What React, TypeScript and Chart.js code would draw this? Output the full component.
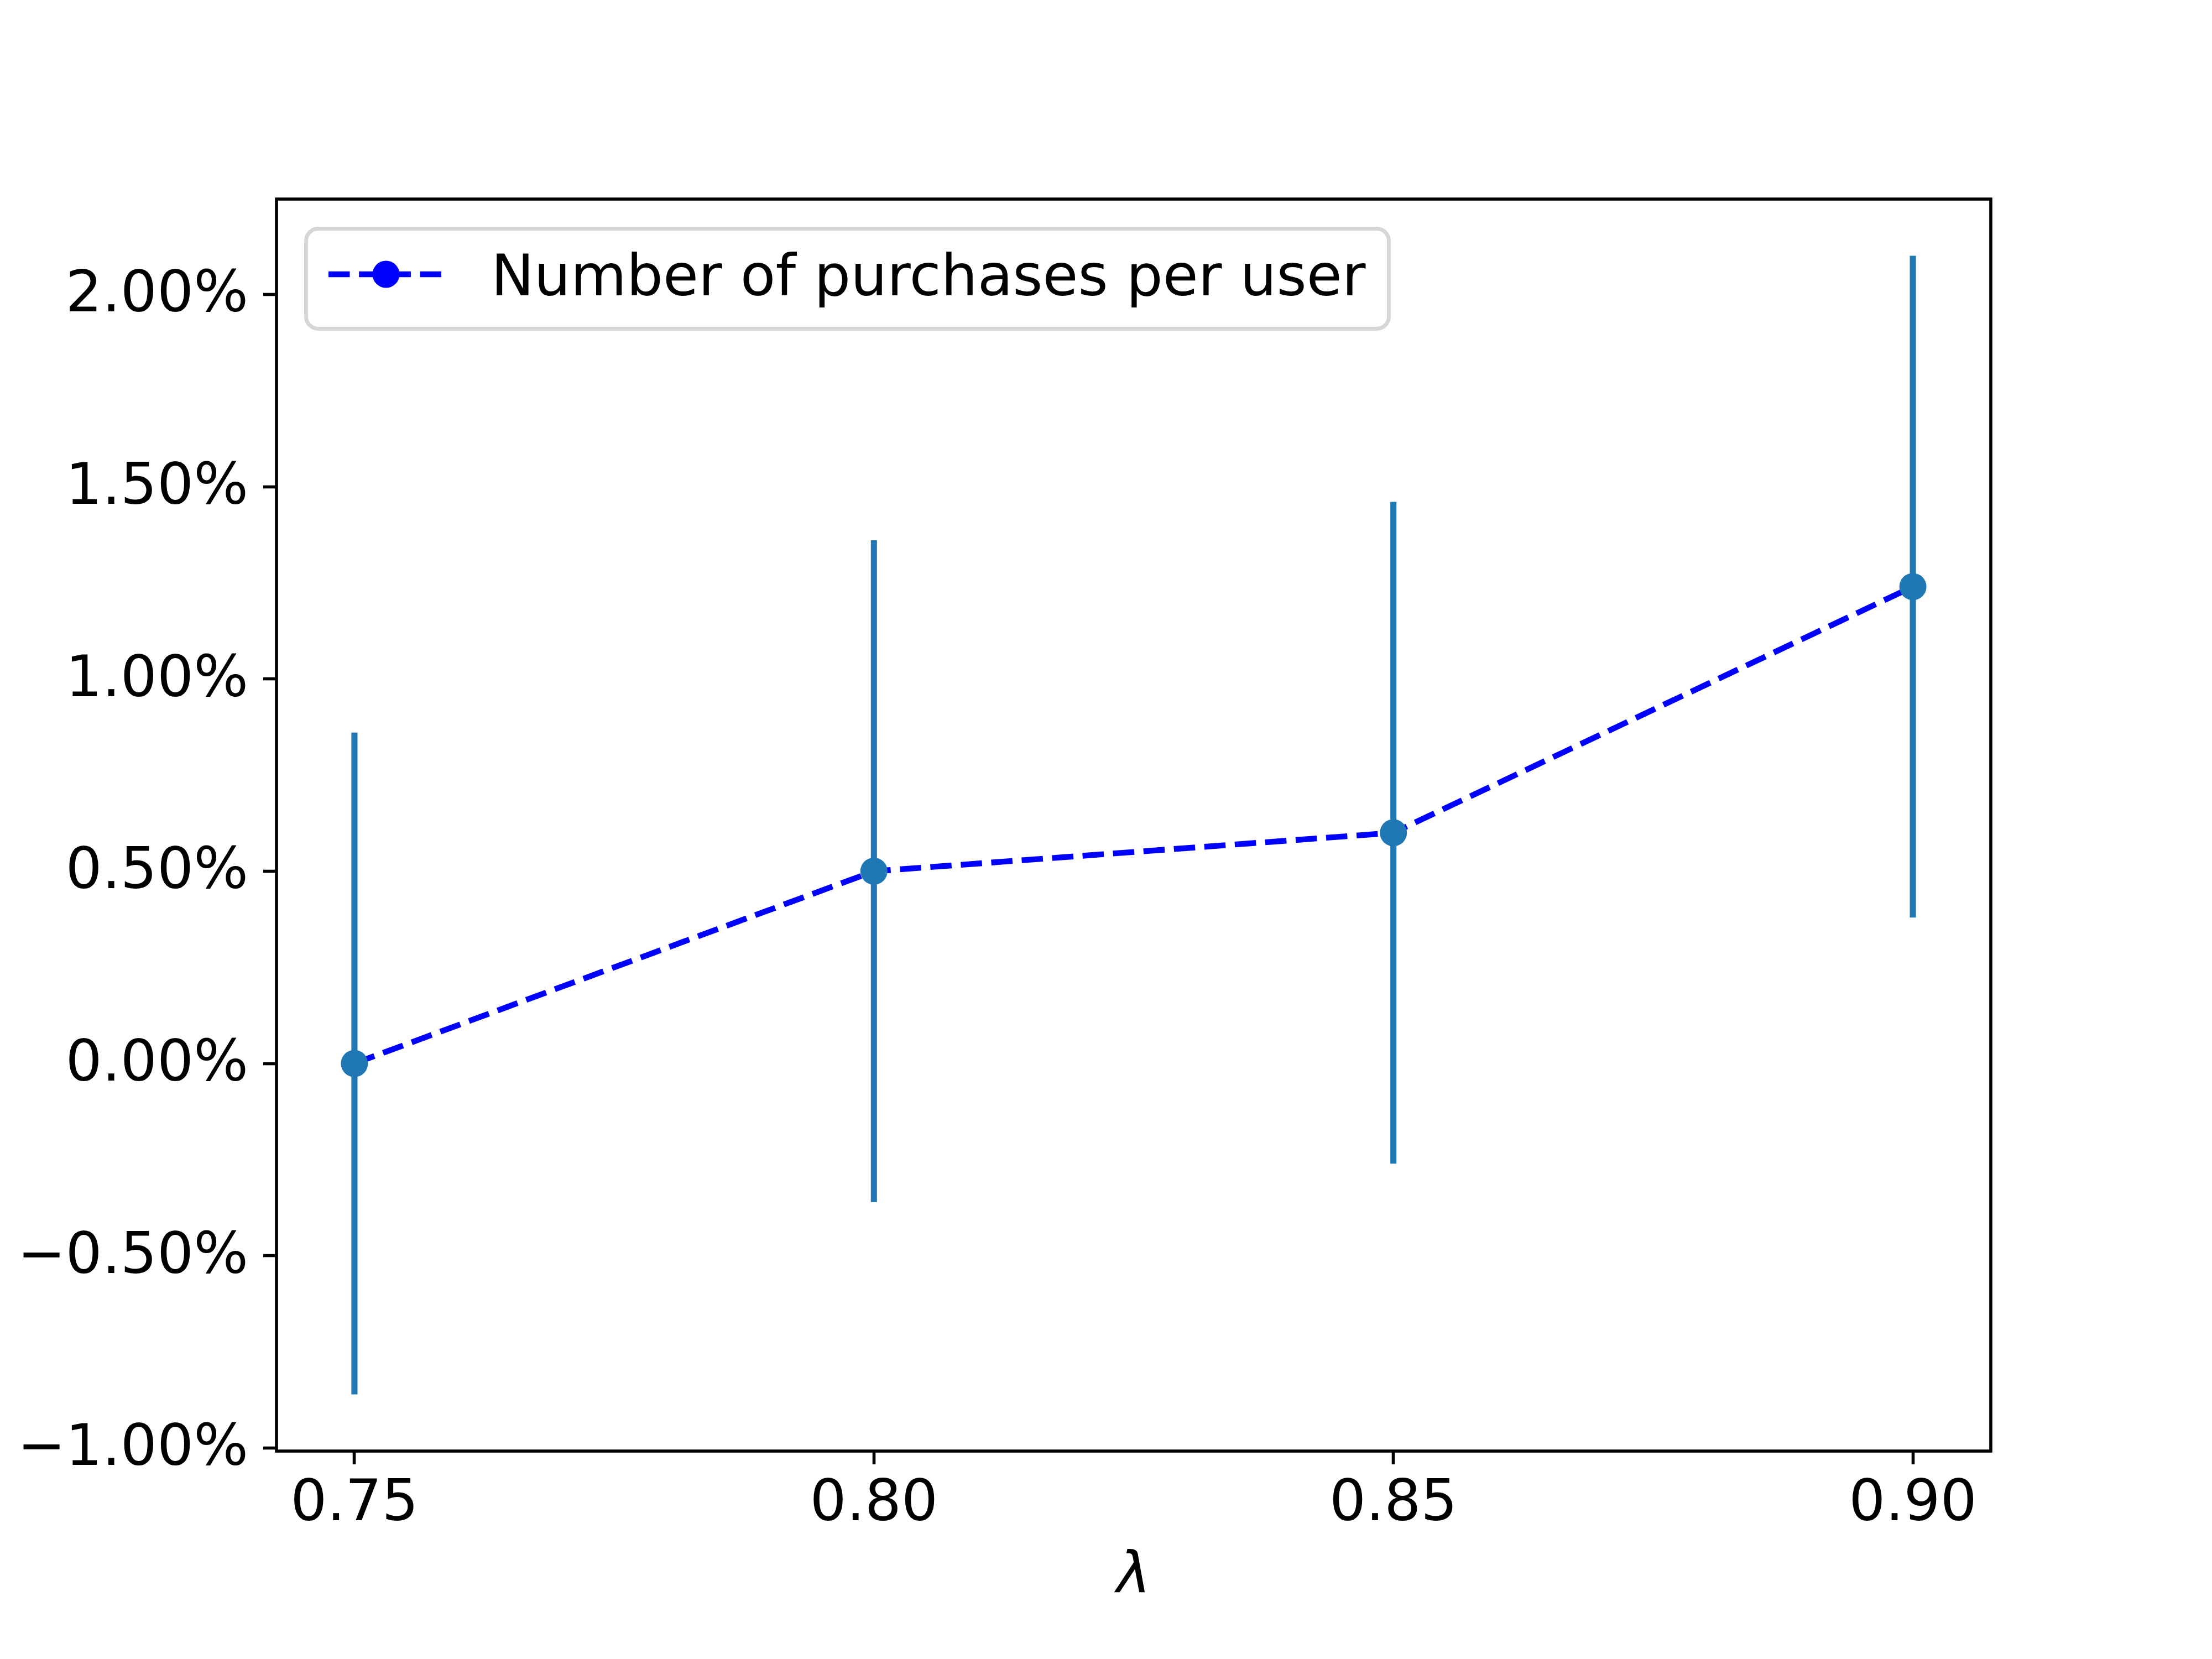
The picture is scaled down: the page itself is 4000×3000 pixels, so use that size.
import React, { useEffect, useRef } from "react";
import { Chart, registerables } from "chart.js";

Chart.register(...registerables);

const lambdas = [0.75, 0.8, 0.85, 0.9];
const uplift = [0.0, 0.5, 0.6, 1.24];
const upliftErr = [0.86, 0.86, 0.86, 0.86];
const xTicks = [0.75, 0.8, 0.85, 0.9];
const yTicks = [-1.0, -0.5, 0.0, 0.5, 1.0, 1.5, 2.0];
const seriesLabel = "Number of purchases per user";
const xTitle = "λ";

const FONT = '"DejaVu Sans"';
const FS = 104;
const C0 = "#1f77b4";
const BLUE = "#0000ff";
const DASH = [38.5, 16.7];
const LW = 10.4;

const framePlugin = {
  id: "frameLegend",
  afterDraw(chart: any) {
    const ctx = chart.ctx;
    const ca = chart.chartArea;
    ctx.save();
    // axes frame
    ctx.strokeStyle = "#000";
    ctx.lineWidth = 5.6;
    ctx.setLineDash([]);
    ctx.strokeRect(ca.left, ca.top, ca.right - ca.left, ca.bottom - ca.top);

    // legend
    const ds = chart.data.datasets[0];
    ctx.font = `${FS}px ${FONT}`;
    const textX = ca.left + 388;
    const tw = ctx.measureText(ds.label).width;
    const bx0 = ca.left + 53.5;
    const by0 = ca.top + 53.5;
    const bx1 = textX + tw + 42;
    const by1 = ca.top + 234.5;
    ctx.beginPath();
    ctx.roundRect(bx0, by0, bx1 - bx0, by1 - by0, 22);
    ctx.fillStyle = "rgba(255,255,255,0.8)";
    ctx.fill();
    ctx.strokeStyle = "#d6d6d6";
    ctx.lineWidth = 7;
    ctx.stroke();

    const hy = ca.top + 136;
    ctx.beginPath();
    ctx.setLineDash(DASH);
    ctx.strokeStyle = BLUE;
    ctx.lineWidth = LW;
    ctx.lineCap = "butt";
    ctx.moveTo(ca.left + 94, hy);
    ctx.lineTo(ca.left + 302, hy);
    ctx.stroke();
    ctx.setLineDash([]);
    ctx.beginPath();
    ctx.arc(ca.left + 198, hy, 24.5, 0, Math.PI * 2);
    ctx.fillStyle = BLUE;
    ctx.fill();

    ctx.fillStyle = "#000";
    ctx.textAlign = "left";
    ctx.textBaseline = "alphabetic";
    ctx.fillText(ds.label, textX, ca.top + 174);

    // x axis title
    ctx.font = `italic ${FS}px ${FONT}`;
    ctx.textAlign = "center";
    ctx.fillText(xTitle, (ca.left + ca.right) / 2, 2880);
    ctx.restore();
  },
};

export default function App() {
  const ref = useRef<HTMLCanvasElement | null>(null);

  useEffect(() => {
    if (!ref.current) return;
    const chart = new Chart(ref.current, {
      type: "line",
      data: {
        datasets: [
          {
            type: "line",
            label: seriesLabel,
            data: lambdas.map((x, i) => ({ x, y: uplift[i] })),
            borderColor: BLUE,
            backgroundColor: BLUE,
            borderWidth: LW,
            borderDash: DASH,
            pointRadius: 0,
            fill: false,
            tension: 0,
            order: 3,
          } as any,
          {
            type: "bar",
            label: "err",
            data: lambdas.map((x, i) => ({ x, y: [uplift[i] - upliftErr[i], uplift[i] + upliftErr[i]] })),
            backgroundColor: C0,
            borderWidth: 0,
            barThickness: 10.4,
            grouped: false,
            order: 2,
          } as any,
          {
            type: "scatter",
            label: "pts",
            data: lambdas.map((x, i) => ({ x, y: uplift[i] })),
            backgroundColor: C0,
            borderColor: C0,
            pointRadius: 24.5,
            pointBorderWidth: 0,
            showLine: false,
            order: 1,
          } as any,
        ],
      },
      options: {
        animation: false,
        responsive: false,
        devicePixelRatio: 1,
        layout: { padding: { left: 0, top: 360, right: 400, bottom: 0 }, autoPadding: false },
        plugins: { legend: { display: false }, tooltip: { enabled: false } },
        scales: {
          x: {
            type: "linear",
            min: 0.7425,
            max: 0.9075,
            offset: false,
            afterBuildTicks: (s: any) => {
              s.ticks = xTicks.map((v) => ({ value: v }));
            },
            afterFit: (s: any) => {
              s.height = 376;
            },
            border: { display: false },
            grid: {
              display: true,
              offset: false,
              drawOnChartArea: false,
              drawTicks: true,
              tickLength: 24,
              tickWidth: 5.6,
              tickColor: "#000",
            },
            ticks: {
              padding: 12,
              color: "#000",
              font: { family: "DejaVu Sans", size: FS },
              maxRotation: 0,
              autoSkip: false,
              callback: (v: any) => Number(v).toFixed(2),
            },
          },
          y: {
            type: "linear",
            min: -1.008,
            max: 2.248,
            afterBuildTicks: (s: any) => {
              s.ticks = yTicks.map((v) => ({ value: v }));
            },
            afterFit: (s: any) => {
              s.width = 500;
            },
            border: { display: false },
            grid: {
              display: true,
              offset: false,
              drawOnChartArea: false,
              drawTicks: true,
              tickLength: 24,
              tickWidth: 5.6,
              tickColor: "#000",
            },
            ticks: {
              padding: 27,
              labelOffset: 4,
              color: "#000",
              font: { family: "DejaVu Sans", size: FS },
              autoSkip: false,
              callback: (v: any) => {
                const n = Number(v);
                return (n < 0 ? "\u2212" : "") + Math.abs(n).toFixed(2) + "%";
              },
            },
          },
        },
      } as any,
      plugins: [framePlugin],
    });
    return () => chart.destroy();
  }, []);

  return (
    <div style={{ position: "absolute", left: 0, top: 0, width: 4000, height: 3000, background: "#fff" }}>
      <canvas ref={ref} width={4000} height={3000} style={{ width: 4000, height: 3000, display: "block" }} />
    </div>
  );
}
